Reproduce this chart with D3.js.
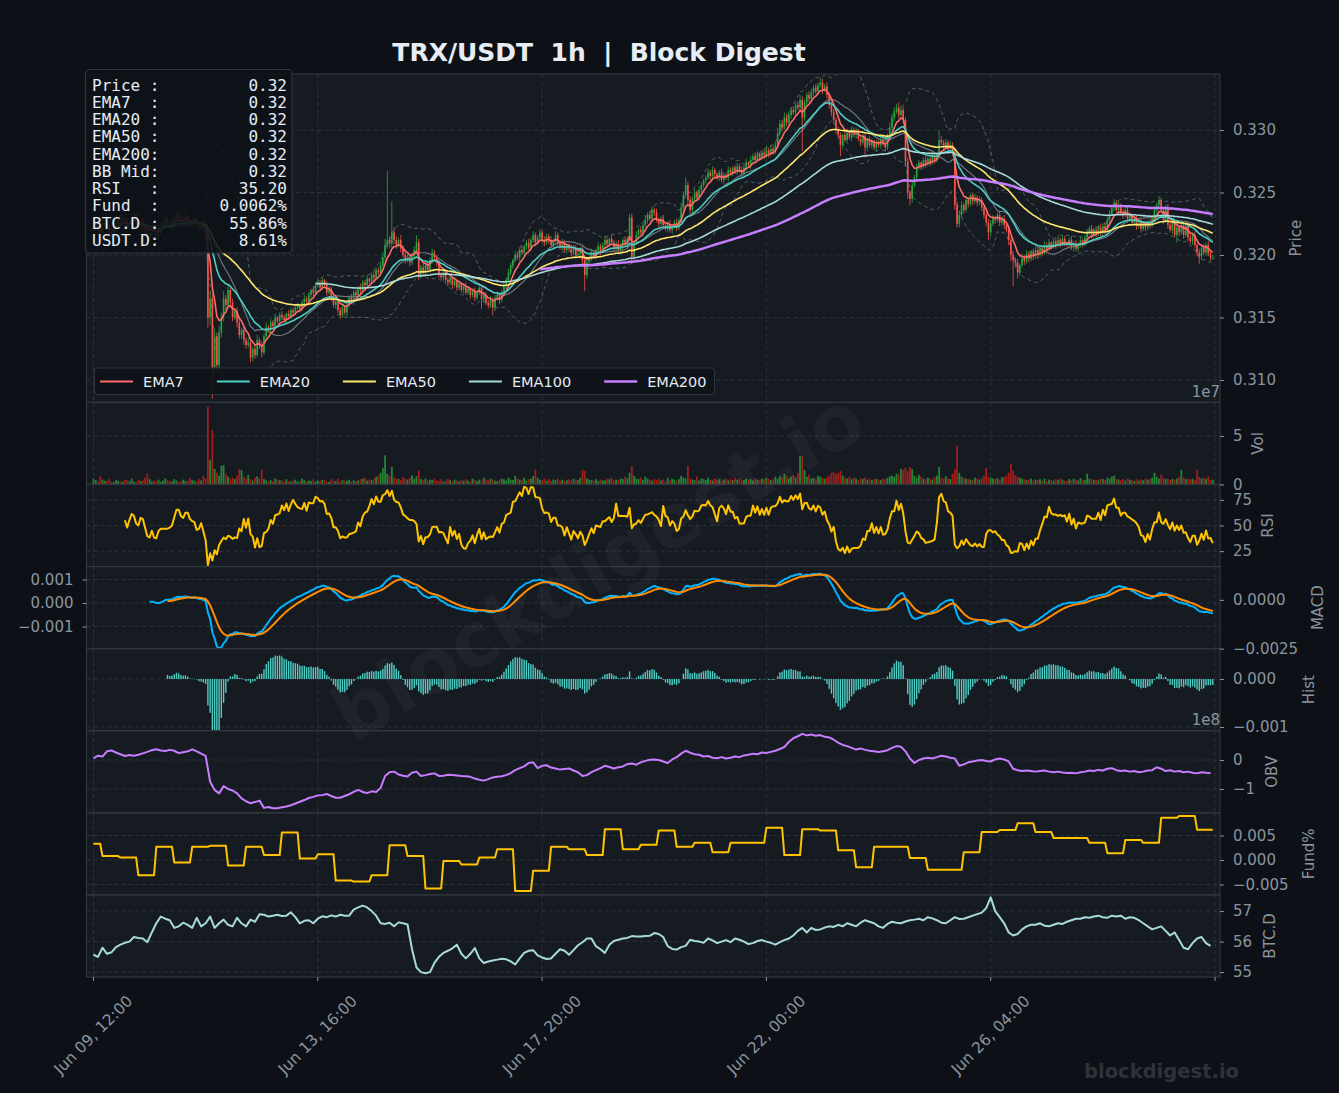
<!DOCTYPE html>
<html>
<head>
<meta charset="utf-8">
<script src="https://cdn.jsdelivr.net/npm/d3@7"></script>
<style>
  html, body { margin: 0; padding: 0; background: #0d1117; }
  svg { display: block; }
</style>
</head>
<body>
<div id="chart"></div>
<script>
// ---------------------------------------------------------------
// data (hourly candles, 500 bars starting Jun 09 12:00)
// ---------------------------------------------------------------
const tickIdx = [0, 100, 200, 300, 400, 500];
const tickLabels = ['Jun 09, 12:00', 'Jun 13, 16:00', 'Jun 17, 20:00', 'Jun 22, 00:00', 'Jun 26, 04:00', ''];

// close price in 1e-4 USDT
const closeE4 = [
  3222,3225,3220,3218,3223,3226,3224,3219,3216,3220, 3224,3228,3226,3230,3227,3223,3225,3229,3232,3228,
  3224,3226,3222,3218,3214,3217,3221,3219,3215,3218, 3222,3226,3229,3225,3222,3226,3230,3233,3229,3226,
  3228,3231,3227,3224,3226,3229,3225,3222,3224,3221, 3218,3150,3165,3110,3135,3112,3138,3150,3165,3160,
  3172,3162,3150,3155,3146,3136,3140,3132,3128,3130, 3118,3125,3120,3132,3128,3122,3135,3142,3140,3146,
  3143,3150,3147,3152,3150,3148,3153,3151,3156,3154, 3158,3160,3157,3162,3165,3163,3168,3172,3170,3176,
  3178,3174,3180,3176,3170,3173,3166,3160,3163,3156, 3152,3158,3154,3160,3166,3163,3170,3168,3174,3172,
  3178,3176,3181,3179,3184,3182,3188,3186,3192,3198, 3208,3212,3209,3218,3212,3208,3212,3205,3200,3196,
  3198,3194,3200,3204,3210,3184,3190,3186,3192,3188, 3196,3202,3198,3194,3185,3182,3186,3180,3178,3182,
  3176,3179,3174,3177,3172,3175,3170,3173,3168,3171, 3166,3170,3174,3165,3168,3162,3160,3164,3158,3166,
  3168,3164,3170,3175,3180,3186,3192,3196,3200,3198, 3204,3202,3207,3210,3206,3212,3216,3210,3214,3218,
  3212,3210,3215,3212,3208,3211,3216,3210,3206,3210, 3204,3208,3205,3202,3206,3200,3201,3205,3196,3184,
  3194,3198,3202,3199,3204,3207,3203,3208,3212,3209, 3213,3210,3206,3209,3204,3208,3212,3209,3213,3230,
  3198,3210,3216,3220,3218,3224,3228,3232,3229,3236, 3234,3228,3225,3229,3224,3221,3225,3220,3223,3226,
  3222,3228,3238,3248,3256,3244,3236,3245,3250,3246, 3252,3256,3260,3262,3266,3263,3268,3265,3262,3266,
  3260,3264,3262,3268,3266,3270,3267,3271,3268,3265, 3270,3274,3272,3276,3279,3276,3281,3278,3282,3280,
  3284,3281,3285,3283,3288,3297,3305,3302,3310,3306, 3312,3316,3314,3320,3318,3324,3310,3322,3328,3325,
  3330,3334,3331,3336,3338,3332,3335,3328,3320,3314, 3308,3300,3296,3288,3296,3292,3298,3294,3300,3296,
  3299,3293,3290,3295,3286,3292,3288,3291,3286,3290, 3288,3292,3289,3286,3294,3302,3310,3315,3318,3312,
  3316,3308,3275,3250,3245,3256,3262,3270,3274,3271, 3276,3273,3277,3274,3279,3276,3280,3292,3290,3287,
  3290,3286,3288,3282,3240,3225,3232,3240,3236,3244, 3241,3248,3243,3246,3242,3244,3238,3232,3226,3218,
  3225,3230,3228,3232,3226,3229,3224,3220,3212,3200, 3196,3194,3186,3192,3198,3195,3201,3197,3203,3199,
  3204,3200,3205,3202,3208,3205,3210,3207,3211,3208, 3212,3209,3213,3210,3208,3212,3206,3209,3205,3208,
  3212,3209,3214,3218,3221,3216,3220,3217,3222,3218, 3223,3220,3228,3233,3238,3242,3236,3240,3234,3232,
  3236,3229,3232,3226,3229,3223,3226,3221,3225,3222, 3226,3224,3230,3236,3240,3244,3236,3228,3238,3224,
  3220,3226,3216,3222,3218,3224,3216,3223,3214,3211, 3216,3208,3202,3199,3206,3202,3208,3201,3198,3198
];

// upper / lower wick beyond the body, 1e-4 USDT
const wickUp = [
  2,1,3,2,1,4,2,1,2,3, 1,2,4,1,2,3,2,1,3,2, 2,1,4,2,3,1,2,2,3,1, 4,2,1,3,2,2,1,3,1,2, 2,4,1,2,3,1,2,2,1,3,
  2,3,6,4,6,3,5,4,6,3, 4,2,3,2,3,4,2,3,2,4, 3,2,3,4,2,3,2,4,2,3, 2,3,1,2,3,2,1,3,2,2, 3,2,1,2,3,2,2,1,3,2,
  3,2,2,1,3,2,2,3,1,2, 2,3,2,1,2,3,2,2,1,3, 2,2,3,1,2,3,2,2,3,4, 5,55,3,25,4,3,2,4,3,2, 3,2,2,3,6,3,2,3,2,3,
  2,3,2,2,3,1,2,3,2,2, 1,3,2,2,1,2,3,2,1,2, 3,2,2,1,3,2,2,3,2,2, 3,1,2,3,2,3,2,1,3,2, 2,3,1,2,3,2,3,2,2,3,
  2,3,2,2,3,2,3,2,2,3, 2,1,1,3,2,2,3,2,2,3, 2,2,3,2,1,3,2,2,3,2, 1,3,2,2,3,2,2,3,2,3, 3,2,3,2,3,2,4,2,3,3,
  2,3,2,2,3,2,2,3,1,2, 3,2,4,3,6,3,3,2,3,2, 3,2,1,2,3,2,3,2,1,2, 3,2,2,3,2,1,2,3,2,3, 2,3,1,3,2,3,2,1,2,3,
  3,2,3,2,3,5,3,3,4,3, 3,2,3,2,3,4,3,3,2,3, 3,2,3,2,4,3,2,3,2,3, 3,2,3,2,1,2,3,2,3,2, 3,2,1,2,3,2,3,2,1,2,
  2,3,2,3,3,4,3,3,3,4, 3,3,2,3,2,3,2,3,2,1, 2,3,2,1,2,3,2,8,3,2, 3,2,3,2,3,3,3,3,2,3, 2,1,2,3,2,3,2,1,2,3,
  3,2,1,2,3,2,3,2,3,2, 3,2,3,1,3,2,3,2,1,2, 3,2,1,2,3,2,3,1,2,2, 3,2,3,2,1,2,3,2,3,2, 3,1,2,3,2,3,2,3,2,3,
  2,3,2,3,2,3,2,3,1,3, 2,3,2,1,2,3,2,3,2,1, 2,3,2,3,2,3,2,1,2,3, 2,3,2,3,2,1,2,3,2,3, 2,3,1,3,2,3,2,3,2,2
];
const wickDn = [
  2,3,1,2,3,1,2,2,3,1, 2,3,1,2,2,3,1,2,2,3, 1,2,3,2,1,3,2,2,1,3, 2,1,2,3,1,2,2,3,1,2, 3,1,2,2,3,1,2,3,2,1,
  3,8,6,25,8,6,5,4,3,4, 3,4,3,2,4,3,3,4,3,2, 4,3,3,2,3,4,2,3,2,3, 2,3,2,3,2,2,3,2,2,3, 2,2,3,2,2,3,2,2,3,2,
  2,3,2,2,3,2,3,2,3,2, 3,2,2,3,2,2,3,2,2,3, 2,2,3,2,2,3,2,2,3,2, 3,3,3,4,3,3,2,3,2,3, 2,3,2,3,2,4,3,2,3,2,
  2,3,2,3,3,2,3,2,3,2, 3,2,3,2,2,3,2,2,3,2, 3,2,2,8,3,2,3,2,6,3, 2,3,2,2,3,2,2,3,2,2, 3,2,2,3,2,3,2,3,2,3,
  2,3,2,3,2,3,2,3,2,3, 2,3,2,3,2,3,2,3,3,13, 3,2,3,2,3,2,3,2,3,2, 3,2,3,2,3,2,3,2,3,2, 5,3,2,3,2,3,2,3,2,3,
  3,2,3,2,3,2,3,2,3,2, 3,2,2,3,2,4,4,3,2,3, 2,3,2,3,2,3,2,3,2,3, 2,3,2,3,2,3,2,3,2,3, 2,3,2,3,2,3,2,3,2,3,
  2,3,2,3,2,3,2,3,2,3, 2,3,2,3,2,3,27,3,2,3, 2,3,2,3,2,3,2,3,3,3, 3,3,3,9,3,2,3,2,3,2, 3,2,3,2,8,3,2,3,2,3,
  2,3,2,3,2,3,2,3,2,3, 2,3,4,5,5,3,2,3,2,3, 2,3,2,3,2,3,2,3,2,3, 2,3,2,3,4,3,3,2,3,2, 3,2,3,2,3,2,3,3,3,6,
  3,2,3,2,3,2,3,2,4,5, 21,4,5,3,2,3,2,3,2,3, 2,3,2,3,2,3,2,3,2,3, 2,3,2,3,2,3,2,3,2,3, 2,3,2,3,2,3,2,3,2,3,
  2,3,2,3,2,3,2,3,2,3, 2,3,2,3,2,3,2,3,2,3, 2,3,2,3,2,3,2,3,2,3, 2,3,2,6,3,2,3,2,3,2, 3,2,3,6,3,2,3,2,3,2
];

// volume, 1e5 TRX
const volE5 = [
  60,45,30,85,50,40,35,55,30,25, 45,38,30,28,50,42,35,60,30,25, 48,35,40,70,110,55,30,40,35,50,
  28,40,62,45,35,30,55,40,30,28, 50,35,40,65,45,38,30,55,42,90,
  60,800,255,560,160,120,90,190,200,110, 80,60,70,55,90,160,150,80,60,100, 55,40,70,85,60,150,55,40,30,45,
  35,60,50,45,40,30,55,35,30,40, 50,28,35,60,45,30,40,35,55,30,
  40,35,45,50,30,28,55,40,35,60, 30,45,40,38,50,30,45,35,40,55, 60,70,40,50,45,60,80,95,120,170,
  300,110,90,180,70,60,55,45,80,60, 50,70,95,60,85,140,55,45,60,40,
  50,45,60,40,35,55,30,40,60,45, 35,50,40,30,45,38,55,40,30,60, 45,35,50,40,70,55,45,60,50,40,
  35,45,60,55,40,70,50,45,90,60, 50,45,70,40,55,60,85,150,70,50,
  45,60,40,55,35,50,45,60,40,50, 35,45,55,40,60,50,45,70,150,140, 60,50,45,40,55,35,50,45,40,60,
  55,70,40,50,45,60,55,80,65,120, 190,90,60,55,70,45,80,60,50,40,
  55,45,60,40,50,35,70,45,60,50, 40,55,90,70,60,190,60,50,45,80, 40,60,55,45,70,50,40,60,45,55,
  35,50,60,40,55,45,70,50,65,40, 45,60,50,55,40,65,50,45,60,55,
  70,60,45,55,80,60,90,70,110,90, 60,80,95,70,120,290,290,150,80,100, 60,70,55,90,80,70,60,75,90,120,
  130,110,120,140,90,70,60,80,55,70, 60,45,65,55,70,50,60,45,55,60,
  50,45,60,55,70,85,90,80,110,100, 160,150,170,140,180,160,90,70,100,80, 60,55,70,60,50,80,90,180,70,60,
  85,60,55,110,160,400,120,80,70,60, 55,50,45,70,60,50,65,90,170,80,
  70,60,55,65,50,75,80,90,120,210, 140,100,80,70,60,55,45,50,60,40, 50,45,55,40,60,35,50,45,40,55,
  45,60,50,40,35,55,45,60,50,40, 65,50,45,110,60,55,45,50,40,60,
  55,45,70,60,80,90,60,50,45,55, 40,60,50,45,35,55,40,50,45,60, 50,55,70,120,80,60,100,70,55,60,
  45,55,50,60,80,150,70,55,60,50, 60,45,150,80,60,70,55,85,45,50
];

// on-balance volume, 1e6, sampled every 2 hours
const obvE6 = [
  6,15,12,30,33,26,20,14,17,15, 18,23,28,34,37,33,31,35,32,24, 27,30,37,30,22,14,-75,-103,-115,-90,
  -100,-105,-115,-132,-142,-149,-145,-140,-165,-162, -166,-166,-163,-160,-156,-150,-144,-138,-131,-127,
  -122,-121,-117,-124,-130,-130,-124,-118,-110,-103, -110,-114,-108,-110,-96,-55,-42,-40,-50,-54,
  -57,-44,-40,-55,-52,-48,-46,-55,-54,-51, -52,-53,-55,-56,-58,-64,-68,-71,-66,-60,
  -58,-56,-52,-45,-35,-28,-22,-10,-8,-28, -20,-18,-26,-29,-33,-31,-29,-36,-42,-55,
  -52,-42,-35,-28,-20,-24,-29,-25,-22,-14, -12,-16,-8,-3,1,2,0,-5,-10,2,
  10,22,32,25,20,18,12,14,8,6, 10,5,8,12,10,16,18,22,20,26, 24,28,32,38,45,62,75,82,90,85,
  88,84,86,80,78,70,60,52,48,42, 36,40,35,32,30,28,30,34,42,48, 46,30,5,-10,0,5,8,5,10,15,
  12,8,5,-20,-15,-8,-5,-2,0,-3, -5,2,5,2,-5,-30,-35,-38,-36,-38, -40,-38,-36,-40,-42,-40,-43,-45,-44,-46,
  -42,-40,-36,-38,-34,-36,-30,-28,-35,-38, -36,-40,-38,-42,-40,-36,-35,-25,-30,-38,
  -35,-40,-38,-42,-40,-44,-46,-42,-44,-45
];

// BTC dominance %, sampled every 2 hours
const btcDom = [
  55.57,55.5,55.8,55.6,55.65,55.82,55.9,55.96,56.0,56.15, 56.12,56.1,55.98,56.3,56.6,56.82,56.75,56.7,56.45,56.5,
  56.62,56.55,56.45,56.78,56.5,56.6,56.82,56.45,56.6,56.72, 56.55,56.5,56.78,56.6,56.5,56.72,56.65,56.9,56.88,56.82,
  56.85,56.88,56.84,56.85,56.96,56.8,56.6,56.68,56.7,56.6, 56.75,56.83,56.8,56.86,56.82,56.88,56.85,56.85,57.05,57.12,
  57.18,57.12,57.0,56.85,56.6,56.58,56.62,56.5,56.63,56.6, 56.56,55.75,55.15,55.0,54.96,55.0,55.3,55.5,55.63,55.7,
  55.78,55.9,55.6,55.45,55.6,55.79,55.45,55.3,55.35,55.38, 55.41,55.44,55.42,55.35,55.25,55.45,55.63,55.7,55.72,55.55,
  55.48,55.43,55.45,55.6,55.75,55.7,55.57,55.72,55.88,55.98, 56.1,56.1,55.85,55.75,55.63,55.9,56.02,56.06,56.1,56.12,
  56.18,56.17,56.17,56.18,56.19,56.28,56.25,56.15,55.85,55.76, 55.74,55.82,55.86,56.06,56.02,56.0,55.96,56.1,56.04,55.95,
  56.0,56.05,55.98,56.1,56.06,56.0,55.92,55.95,56.02,56.05, 56.0,55.96,55.9,55.98,56.05,56.1,56.2,56.35,56.45,56.3,
  56.45,56.38,56.4,56.46,56.5,56.48,56.55,56.5,56.6,56.55, 56.5,56.62,56.7,56.65,56.6,56.5,56.45,56.58,56.65,56.62,
  56.6,56.66,56.7,56.72,56.75,56.7,56.8,56.76,56.7,56.62, 56.6,56.7,56.8,56.74,56.75,56.8,56.85,56.9,56.95,57.1,
  57.45,57.0,56.8,56.6,56.3,56.2,56.25,56.4,56.5,56.55, 56.55,56.6,56.52,56.5,56.55,56.6,56.58,56.65,56.7,56.75,
  56.75,56.8,56.78,56.82,56.85,56.8,56.78,56.85,56.82,56.85, 56.75,56.8,56.78,56.7,56.6,56.5,56.4,56.45,56.5,56.35,
  56.2,56.3,56.05,55.8,55.75,55.95,56.1,56.15,55.95,55.86
];

// funding rate %, one value per 8h window
const fundRate = [
  0.0033,0.0008,0.0005,-0.0031,0.0027,-0.0005,0.0027,0.0029,-0.0011,0.0027,
  0.0010,0.0056,0.0003,0.0012,-0.0042,-0.0044,-0.0031,0.0030,0.0008,-0.0058,
  -0.0002,-0.0009,0.0005,0.0022,-0.0063,-0.0022,0.0027,0.0022,0.0010,0.0063,
  0.0022,0.0031,0.0060,0.0027,0.0035,0.0016,0.0035,0.0035,0.0066,0.0010,
  0.0063,0.0060,0.0020,-0.0015,0.0027,0.0027,0.0004,-0.0020,-0.0020,0.0016,
  0.0057,0.0061,0.0075,0.0057,0.0045,0.0045,0.0035,0.0014,0.0041,0.0035,
  0.0086,0.0090,0.0062
];

const emaSpans = [7, 20, 50, 100, 200];
const emaColors = ['#ff6b6b', '#4ecdc4', '#ffe66d', '#a8dadc', '#c77dff'];

const infoLabels = ['Price :', 'EMA7  :', 'EMA20 :', 'EMA50 :', 'EMA200:', 'BB Mid:', 'RSI   :', 'Fund  :', 'BTC.D :', 'USDT.D:'];
const infoValues = ['0.32', '0.32', '0.32', '0.32', '0.32', '0.32', '35.20', '0.0062%', '55.86%', '8.61%'];

// ---------------------------------------------------------------
// layout
// ---------------------------------------------------------------
const W = 1339, H = 1093;
const X0 = 86.5, X1 = 1220;
const TOP = 74, BOT = 977;
const unit = (BOT - TOP) / 11;
const edges = [0, 4, 5, 6, 7, 8, 9, 10, 11].map(k => TOP + k * unit);
const P = d3.range(8).map(k => ({top: edges[k], bottom: edges[k + 1]}));

const FONT = '"DejaVu Sans", sans-serif';
const MONO = '"DejaVu Sans Mono", monospace';
const TXT = '#8b949e', GRID = '#2d333b', FRAME = '#30363d';
const TICK_FS = 15;

const x = d3.scaleLinear().domain([0, 500]).range([93.5, 1215]);

// ---------------------------------------------------------------
// derived series
// ---------------------------------------------------------------
const N = closeE4.length;
const close = closeE4.map(v => v / 1e4);
const open = close.map((c, i) => i === 0 ? 0.3220 : close[i - 1]);
const high = close.map((c, i) => Math.max(c, open[i]) + wickUp[i] / 1e4);
const low = close.map((c, i) => Math.min(c, open[i]) - wickDn[i] / 1e4);
const vol = volE5.map(v => v * 1e5);

function emaRaw(src, span) {
  const a = 2 / (span + 1);
  let prev = null;
  return src.map(v => {
    if (v == null) return null;
    prev = prev == null ? v : a * v + (1 - a) * prev;
    return prev;
  });
}
function emaMasked(src, span) {
  const raw = emaRaw(src, span);
  let n = 0;
  return raw.map(v => {
    if (v == null) return null;
    n++;
    return n >= span ? v : null;
  });
}

const emas = emaSpans.map(s => emaMasked(close, s));

const bb = close.map((c, i) => {
  if (i < 19) return null;
  const w = close.slice(i - 19, i + 1);
  const m = d3.mean(w), s = d3.deviation(w);
  return {mid: m, up: m + 2 * s, lo: m - 2 * s};
});

const rsi = close.map((c, i) => {
  if (i < 14) return null;
  let g = 0, l = 0;
  for (let j = i - 13; j <= i; j++) {
    const d = close[j] - close[j - 1];
    if (d > 0) g += d; else l -= d;
  }
  return l === 0 ? 100 : 100 - 100 / (1 + g / l);
});

const e12 = emaRaw(close, 12), e26 = emaRaw(close, 26);
const macd = close.map((c, i) => i < 25 ? null : e12[i] - e26[i]);
const signal = emaMasked(macd, 9);
const hist = macd.map((m, i) => signal[i] == null ? null : m - signal[i]);

const fundHourly = d3.range(N).map(i => fundRate[Math.floor((i + 4) / 8)]);

// ---------------------------------------------------------------
// scales per panel
// ---------------------------------------------------------------
const yPrice = d3.scaleLinear().domain([0.30821, 0.33448]).range([P[0].bottom, P[0].top]);
const yVol = d3.scaleLinear().domain([0, 8.46e7]).range([P[1].bottom, P[1].top]);
const yRsi = d3.scaleLinear().domain([10, 90]).range([P[2].bottom, P[2].top]);
const yMacdL = d3.scaleLinear().domain([-0.00194, 0.00155]).range([P[3].bottom, P[3].top]);
const yMacd = d3.scaleLinear().domain([-0.0025, 0.00171]).range([P[3].bottom, P[3].top]);
const yHist = d3.scaleLinear().domain([-0.001077, 0.000633]).range([P[4].bottom, P[4].top]);
const yObv = d3.scaleLinear().domain([-1.82e8, 1.01e8]).range([P[5].bottom, P[5].top]);
const yFund = d3.scaleLinear().domain([-0.00712, 0.00963]).range([P[6].bottom, P[6].top]);
const yBtc = d3.scaleLinear().domain([54.84, 57.53]).range([P[7].bottom, P[7].top]);

// ---------------------------------------------------------------
// svg
// ---------------------------------------------------------------
const svg = d3.select('#chart').append('svg')
    .attr('width', W).attr('height', H)
    .attr('font-family', FONT);

svg.append('rect').attr('width', W).attr('height', H).attr('fill', '#0d1117');

const defs = svg.append('defs');
P.forEach((p, k) => {
  defs.append('clipPath').attr('id', 'clip' + k)
    .append('rect').attr('x', X0).attr('y', p.top).attr('width', X1 - X0).attr('height', p.bottom - p.top);
  svg.append('rect')
      .attr('x', X0).attr('y', p.top).attr('width', X1 - X0).attr('height', p.bottom - p.top)
      .attr('fill', '#161b22');
});

// grid
function hGrid(scale, vals) {
  svg.append('g').selectAll('line').data(vals).join('line')
      .attr('x1', X0).attr('x2', X1)
      .attr('y1', d => scale(d)).attr('y2', d => scale(d))
      .attr('stroke', GRID).attr('stroke-width', 1).attr('stroke-dasharray', '4,3');
}
P.forEach(p => {
  svg.append('g').selectAll('line').data(tickIdx).join('line')
      .attr('x1', d => x(d)).attr('x2', d => x(d))
      .attr('y1', p.top).attr('y2', p.bottom)
      .attr('stroke', GRID).attr('stroke-width', 1).attr('stroke-dasharray', '4,3');
});
hGrid(yPrice, [0.310, 0.315, 0.320, 0.325, 0.330]);
hGrid(yVol, [0, 5e7]);
hGrid(yRsi, [25, 50, 75]);
hGrid(yMacdL, [-0.001, 0, 0.001]);
hGrid(yHist, [-0.001, 0]);
hGrid(yObv, [-1e8, 0]);
hGrid(yFund, [-0.005, 0, 0.005]);
hGrid(yBtc, [55, 56, 57]);

function layer(k) {
  return svg.append('g').attr('clip-path', `url(#clip${k})`);
}
function drawLine(g, data, scale, color, width, dash, opacity, xs) {
  const ln = d3.line()
      .defined(d => d != null)
      .x((d, i) => x(xs ? xs(i) : i))
      .y(d => scale(d));
  g.append('path').datum(data)
      .attr('d', ln)
      .attr('fill', 'none')
      .attr('stroke', color)
      .attr('stroke-width', width)
      .attr('stroke-dasharray', dash || null)
      .attr('stroke-opacity', opacity == null ? 1 : opacity)
      .attr('stroke-linejoin', 'round');
}

// ----- price panel
const gP = layer(0);
drawLine(gP, bb.map(d => d && d.up), yPrice, '#8b949e', 1, '4,3', 0.55);
drawLine(gP, bb.map(d => d && d.lo), yPrice, '#8b949e', 1, '4,3', 0.55);
drawLine(gP, bb.map(d => d && d.mid), yPrice, '#8b949e', 1.2, null, 0.75);

const UP = '#26a641', DN = '#f85149';
const bars = d3.range(N);
gP.append('g').selectAll('line').data(bars).join('line')
    .attr('x1', i => x(i)).attr('x2', i => x(i))
    .attr('y1', i => yPrice(high[i])).attr('y2', i => yPrice(low[i]))
    .attr('stroke', i => close[i] >= open[i] ? UP : DN)
    .attr('stroke-width', 0.8);
gP.append('g').selectAll('rect').data(bars).join('rect')
    .attr('x', i => x(i) - 0.8).attr('width', 1.6)
    .attr('y', i => yPrice(Math.max(open[i], close[i])))
    .attr('height', i => Math.max(0.8, Math.abs(yPrice(open[i]) - yPrice(close[i]))))
    .attr('fill', i => close[i] >= open[i] ? UP : DN);

emas.forEach((e, k) => drawLine(gP, e, yPrice, emaColors[k], k === 4 ? 2.5 : 1.6));

// ----- volume
const gV = layer(1);
gV.selectAll('rect').data(bars).join('rect')
    .attr('x', i => x(i) - 0.9).attr('width', 1.8)
    .attr('y', i => yVol(vol[i]))
    .attr('height', i => yVol(0) - yVol(vol[i]))
    .attr('fill', i => close[i] >= open[i] ? '#238636' : '#a11d1d');

// ----- rsi
drawLine(layer(2), rsi, yRsi, '#ffc300', 2);

// ----- macd
const gM = layer(3);
drawLine(gM, macd, yMacd, '#00b4ff', 2);
drawLine(gM, signal, yMacd, '#ff8c00', 2);

// ----- histogram
layer(4).selectAll('rect').data(bars.filter(i => hist[i] != null)).join('rect')
    .attr('x', i => x(i) - 0.7).attr('width', 1.4)
    .attr('y', i => yHist(Math.max(0, hist[i])))
    .attr('height', i => Math.abs(yHist(hist[i]) - yHist(0)))
    .attr('fill', '#4ecdc4');

// ----- obv / fund / btc.d
drawLine(layer(5), obvE6.map(v => v * 1e6), yObv, '#c77dff', 2, null, 1, i => i * 2);
drawLine(layer(6), fundHourly, yFund, '#ffc300', 2);
drawLine(layer(7), btcDom, yBtc, '#a8dadc', 2, null, 1, i => i * 2);

// frames
P.forEach(p => {
  svg.append('rect')
      .attr('x', X0).attr('y', p.top).attr('width', X1 - X0).attr('height', p.bottom - p.top)
      .attr('fill', 'none').attr('stroke', FRAME).attr('stroke-width', 1.2);
});

// ---------------------------------------------------------------
// axes
// ---------------------------------------------------------------
function styleAxis(g) {
  g.select('.domain').remove();
  g.selectAll('line').attr('stroke', TXT);
  g.selectAll('text').attr('fill', TXT).attr('font-size', TICK_FS).attr('font-family', FONT);
}
function rightAxis(scale, vals, fmt) {
  svg.append('g').attr('transform', `translate(${X1},0)`)
      .call(d3.axisRight(scale).tickValues(vals).tickFormat(fmt).tickSize(4).tickPadding(9))
      .call(styleAxis);
}
rightAxis(yPrice, [0.310, 0.315, 0.320, 0.325, 0.330], d3.format('.3f'));
rightAxis(yVol, [0, 5e7], d => d / 1e7);
rightAxis(yRsi, [25, 50, 75], d3.format('d'));
rightAxis(yMacd, [-0.0025, 0], d3.format('.4f'));
rightAxis(yHist, [-0.001, 0], d3.format('.3f'));
rightAxis(yObv, [-1e8, 0], d => d3.format('d')(d / 1e8));
rightAxis(yFund, [-0.005, 0, 0.005], d3.format('.3f'));
rightAxis(yBtc, [55, 56, 57], d3.format('d'));

svg.append('g').attr('transform', `translate(${X0},0)`)
    .call(d3.axisLeft(yMacdL).tickValues([-0.001, 0, 0.001]).tickFormat(d3.format('.3f')).tickSize(4).tickPadding(9))
    .call(styleAxis);

// axis titles
const axisTitles = [
  ['Price', 1296], ['Vol', 1258], ['RSI', 1268], ['MACD', 1318],
  ['Hist', 1309], ['OBV', 1272], ['Fund%', 1309], ['BTC.D', 1270]
];
axisTitles.forEach(([t, tx], k) => {
  const cy = (P[k].top + P[k].bottom) / 2;
  svg.append('text')
      .attr('transform', `translate(${tx},${cy}) rotate(-90)`)
      .attr('text-anchor', 'middle').attr('dominant-baseline', 'central')
      .attr('fill', TXT).attr('font-size', 15)
      .text(t);
});

// offset texts
svg.append('text').attr('x', X1).attr('y', 397).attr('text-anchor', 'end')
    .attr('fill', TXT).attr('font-size', 15).text('1e7');
svg.append('text').attr('x', X1).attr('y', 725).attr('text-anchor', 'end')
    .attr('fill', TXT).attr('font-size', 15).text('1e8');

// x axis
const xg = svg.append('g');
xg.selectAll('line').data(tickIdx).join('line')
    .attr('x1', d => x(d)).attr('x2', d => x(d))
    .attr('y1', BOT).attr('y2', BOT + 4)
    .attr('stroke', TXT);
tickIdx.forEach((t, k) => {
  if (!tickLabels[k]) return;
  const txt = xg.append('text')
      .attr('fill', TXT).attr('font-size', 15.5)
      .attr('text-anchor', 'middle').attr('dominant-baseline', 'central')
      .text(tickLabels[k]);
  const L = txt.node().getComputedTextLength();
  const half = (L + 15.5) * Math.SQRT1_2 / 2;
  txt.attr('transform', `translate(${x(t)},${993 + half}) rotate(-45)`);
});

// ---------------------------------------------------------------
// title, info box, legend
// ---------------------------------------------------------------
svg.append('text')
    .attr('x', 599).attr('y', 61)
    .attr('text-anchor', 'middle')
    .attr('fill', '#e6edf3').attr('font-size', 25).attr('font-weight', 'bold')
    .style('white-space', 'pre')
    .text('TRX/USDT  1h  |  Block Digest');

const info = svg.append('g');
info.append('rect')
    .attr('x', 85.5).attr('y', 69.5).attr('width', 206.5).attr('height', 183.5).attr('rx', 4)
    .attr('fill', '#0d1117').attr('fill-opacity', 0.88)
    .attr('stroke', FRAME).attr('stroke-width', 1.2);
infoLabels.forEach((l, k) => {
  const y = 90.5 + k * 17.25;
  info.append('text').attr('x', 92).attr('y', y)
      .attr('font-family', MONO).attr('font-size', 16).attr('fill', '#e6edf3')
      .style('white-space', 'pre').text(l);
  info.append('text').attr('x', 287).attr('y', y).attr('text-anchor', 'end')
      .attr('font-family', MONO).attr('font-size', 16).attr('fill', '#e6edf3')
      .text(infoValues[k]);
});

const leg = svg.append('g');
const legBox = leg.append('rect')
    .attr('x', 94.5).attr('y', 368).attr('height', 26.5).attr('rx', 3)
    .attr('fill', '#0d1117').attr('fill-opacity', 0.85)
    .attr('stroke', FRAME).attr('stroke-width', 1);
let lx = 100;
emaSpans.forEach((s, k) => {
  leg.append('line')
      .attr('x1', lx).attr('x2', lx + 33).attr('y1', 381.5).attr('y2', 381.5)
      .attr('stroke', emaColors[k]).attr('stroke-width', k === 4 ? 2.5 : 2);
  const t = leg.append('text').attr('x', lx + 43).attr('y', 381.5)
      .attr('dominant-baseline', 'central')
      .attr('fill', '#e6edf3').attr('font-size', 14.5)
      .text('EMA' + s);
  lx += 43 + t.node().getComputedTextLength() + 33;
});
legBox.attr('width', lx - 33 + 8 - 94.5);

// ---------------------------------------------------------------
// watermarks
// ---------------------------------------------------------------
svg.append('text')
    .attr('transform', 'translate(598,566) rotate(-31)')
    .attr('text-anchor', 'middle').attr('dominant-baseline', 'central')
    .attr('font-size', 76).attr('font-weight', 'bold')
    .attr('fill', '#ffffff').attr('fill-opacity', 0.035)
    .text('blockdigest.io');

svg.append('text')
    .attr('x', 1239).attr('y', 1078).attr('text-anchor', 'end')
    .attr('font-size', 19).attr('font-weight', 'bold')
    .attr('fill', '#2d333b')
    .attr('textLength', 155).attr('lengthAdjust', 'spacingAndGlyphs')
    .text('blockdigest.io');
</script>
</body>
</html>
